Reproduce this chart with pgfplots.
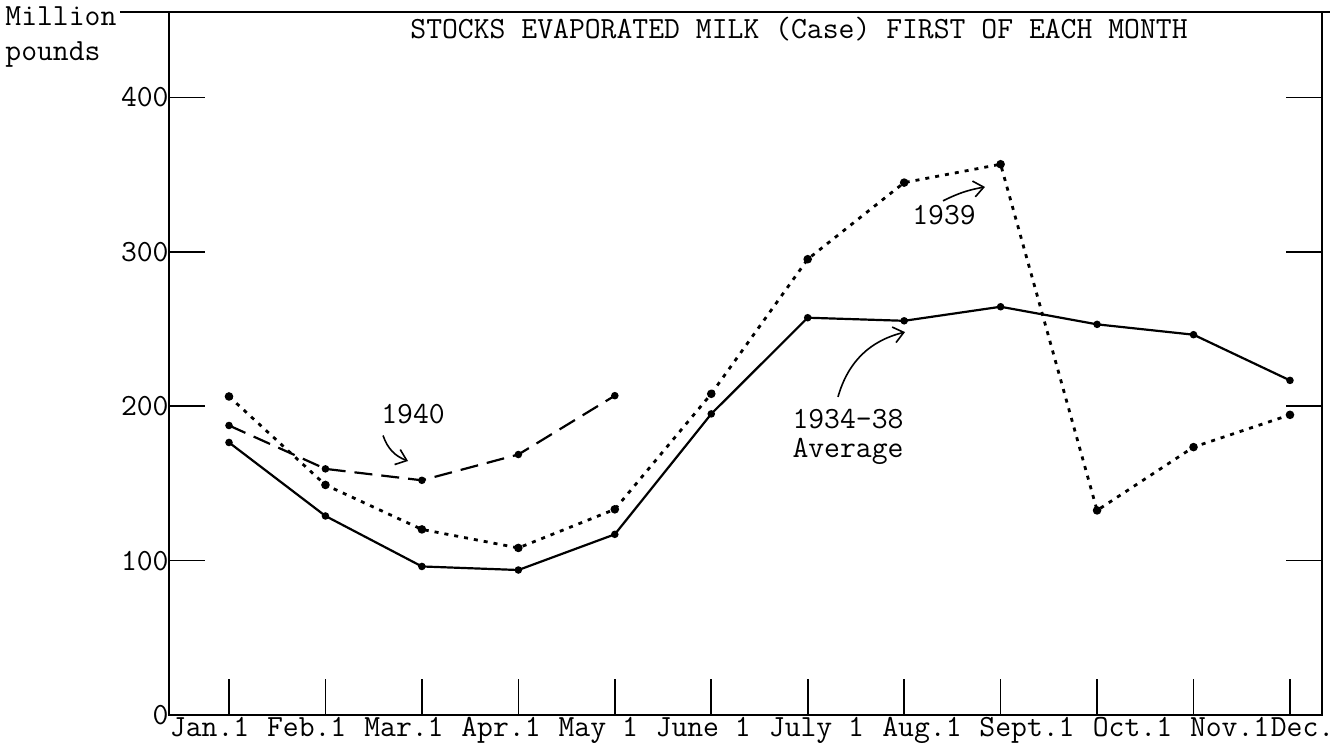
\documentclass[border=0pt]{standalone}
\usepackage{pgfplots}
\pgfplotsset{compat=1.18}
\usetikzlibrary{arrows.meta}
\newcommand\tw{\ttfamily\fontsize{15.4pt}{18pt}\selectfont}
\begin{document}
\begin{tikzpicture}
\begin{axis}[
 at={(0,0)}, anchor=south west,
 scale only axis, width=576.5pt, height=351.5pt,
 xmin=-0.622, xmax=11.332, ymin=0, ymax=455.3,
 axis line style={line width=0.8pt},
 tick align=inside, major tick length=18pt,
 tick style={line width=0.8pt, black},
 xtick={0,...,11}, xtick pos=bottom,
 ytick={0,100,200,300,400}, ytick pos=both, yticklabel pos=left,
 xticklabels={
  {\makebox[0pt][l]{\hspace*{-29.5pt}Jan.1}},
  {\makebox[0pt][l]{\hspace*{-29.2pt}Feb.1}},
  {\makebox[0pt][l]{\hspace*{-28.8pt}Mar.1}},
  {\makebox[0pt][l]{\hspace*{-28.5pt}Apr.1}},
  {\makebox[0pt][l]{\hspace*{-28.1pt}May 1}},
  {\makebox[0pt][l]{\hspace*{-27.8pt}June 1}},
  {\makebox[0pt][l]{\hspace*{-19.4pt}July 1}},
  {\makebox[0pt][l]{\hspace*{-10.9pt}Aug.1}},
  {\makebox[0pt][l]{\hspace*{-10.6pt}Sept.1}},
  {\makebox[0pt][l]{\hspace*{-2.1pt}Oct.1}},
  {\makebox[0pt][l]{\hspace*{-1.75pt}Nov.1}},
  {\makebox[0pt][l]{\hspace*{-9.55pt}Dec.1}}},
 xticklabel style={anchor=north, inner sep=0pt, yshift=-1pt, font=\tw},
 yticklabel style={anchor=east, inner sep=0pt, font=\tw},
 /pgf/number format/assume math mode=true,
 clip=false,
]
% 1934-38 Average
\addplot[black, line width=1.1pt, mark=*, mark size=1.3pt] coordinates {
 (0,176.5) (1,128.9) (2,96.2) (3,93.9) (4,117) (5,195) (6,257.3) (7,255.3) (8,264.4) (9,253) (10,246.3) (11,216.7)};
% 1939
\addplot[black, line width=1.4pt, dash pattern=on 2pt off 3pt, mark=*, mark size=1.4pt, mark options={solid}] coordinates {
 (0,206.3) (1,149) (2,120.2) (3,108.2) (4,133.2) (5,208) (6,295.2) (7,344.8) (8,356.7) (9,132.5) (10,173.5) (11,194.4)};
% 1940
\addplot[black, line width=1.1pt, dash pattern=on 9pt off 4.5pt, mark=*, mark size=1.3pt, mark options={solid}] coordinates {
 (0,187.5) (1,159.4) (2,152) (3,168.7) (4,206.8)};

\node[font=\tw] at (axis cs:1.908,195) {1940};
\draw[line width=0.8pt, -{Straight Barb[length=5pt,width=8pt]}] (axis cs:1.597,181) to[bend right=25] (axis cs:1.856,164.5);
\node[font=\tw] at (axis cs:7.413,323.7) {1939};
\draw[line width=0.8pt, -{Straight Barb[length=5pt,width=8pt]}] (axis cs:7.403,333) to[bend left=8] (axis cs:7.838,342);
\node[font=\tw] at (axis cs:6.418,191.8) {1934-38};
\node[font=\tw] at (axis cs:6.418,170.9) {Average};
\draw[line width=0.8pt, -{Straight Barb[length=5pt,width=8pt]}] (axis cs:6.314,206) to[bend left=30] (axis cs:7.009,248);
\end{axis}
\draw[line width=0.8pt] (-24.5pt,351.5pt) -- (580.5pt,351.5pt);
\node[font=\tw, anchor=base west, inner sep=0pt] at (120.5pt,338pt) {STOCKS EVAPORATED MILK (Case) FIRST OF EACH MONTH};
\node[font=\tw, anchor=base west, inner sep=0pt] at (-82pt,344.5pt) {Million};
\node[font=\tw, anchor=base west, inner sep=0pt] at (-82pt,327pt) {pounds};
\pgfresetboundingbox
\path[use as bounding box] (-84.5pt,-15pt) rectangle (580.5pt,357.5pt);
\end{tikzpicture}
\end{document}
